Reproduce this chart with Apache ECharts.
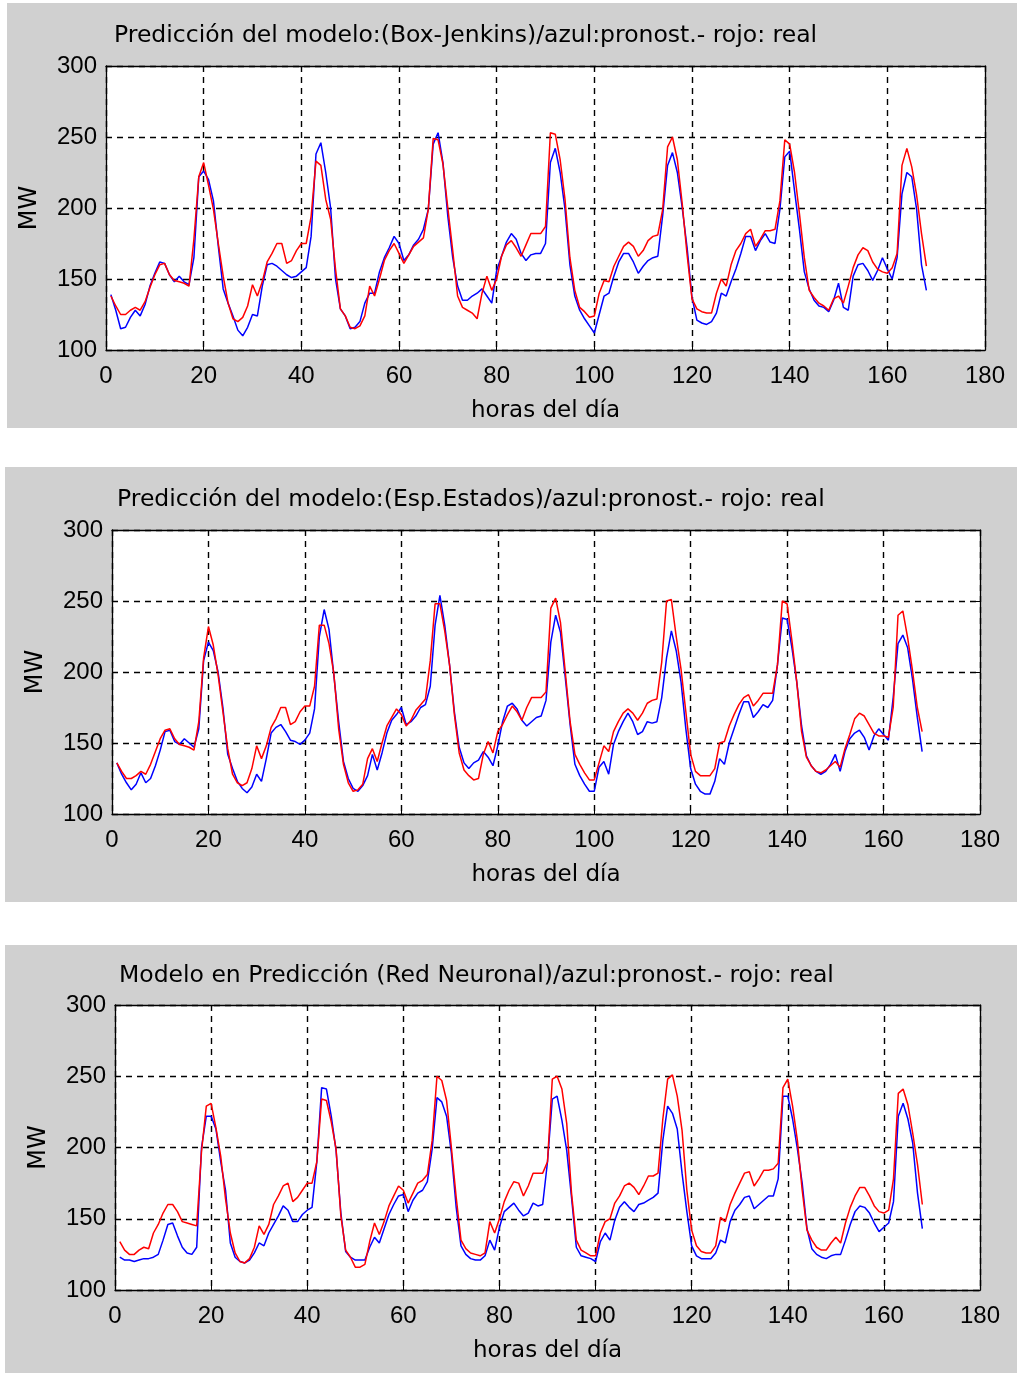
<!DOCTYPE html>
<html>
<head>
<meta charset="utf-8">
<script src="https://cdn.jsdelivr.net/npm/echarts@6/dist/echarts.min.js"></script>
<style>
html,body{margin:0;padding:0;background:#fff;}
#c{width:1017px;height:1373px;}
</style>
</head>
<body>
<div id="c"></div>
<script>
// ---------- DATA ----------
const titles = [
  'Predicción del modelo:(Box-Jenkins)/azul:pronost.- rojo: real',
  'Predicción del modelo:(Esp.Estados)/azul:pronost.- rojo: real',
  'Modelo en Predicción (Red Neuronal)/azul:pronost.- rojo: real'
];
const xName = 'horas del día';
const yName = 'MW';

// hours 1..168 (x positions of the hourly samples)
const hours = [];
for (let h = 1; h <= 168; h++) hours.push(h);

// Panel 1 : Box-Jenkins
const bjReal = [
  138,131,125,125,128,130,128,134,144,153,
  160,161,153,149,148,147,145,178,222,232,
  216,199,175,152,133,122,120,123,131,146,
  138,148,162,168,175,175,161,163,170,175,
  175,194,233,230,206,192,157,129,124,116,
  115,117,124,145,138,150,163,170,175,168,
  161,167,173,176,179,199,249,248,231,200,
  170,138,130,128,126,122,140,152,142,150,
  166,174,177,172,166,174,182,182,182,187,
  253,252,234,206,165,142,130,127,123,124,
  140,149,148,159,166,173,176,173,166,170,
  177,180,181,199,243,250,234,203,167,136,
  129,127,126,126,140,150,145,160,170,175,
  182,185,173,178,184,184,185,205,248,245,
  225,196,165,142,137,133,131,128,136,138,
  133,145,158,167,172,170,162,157,155,154,
  158,168,230,242,229,209,182,159
];
const bjPron = [
  139,128,115,116,123,128,124,132,145,154,
  162,161,153,148,152,148,146,165,222,226,
  220,205,173,143,133,124,114,110,116,125,
  124,145,160,161,159,156,153,151,152,155,
  158,180,238,246,225,200,150,129,124,115,
  116,120,133,140,140,155,165,172,180,175,
  163,167,174,178,185,199,245,253,232,194,
  165,145,135,135,138,140,143,138,133,156,
  166,176,182,178,168,163,167,168,168,175,
  232,242,225,199,160,138,128,122,117,112,
  125,138,140,152,162,168,168,162,154,159,
  163,165,166,195,230,239,225,200,172,137,
  121,119,118,120,126,140,138,148,157,168,
  180,180,170,177,182,176,175,199,236,240,
  212,185,155,143,135,131,130,127,135,147,
  130,128,152,160,161,156,149,156,165,157,
  150,165,210,225,222,199,160,142
];

// Panel 2 : Espacio de Estados
const eeReal = [
  136,130,125,125,127,130,128,135,144,153,
  159,160,153,149,148,147,145,165,210,232,
  219,198,172,146,128,122,120,122,132,148,
  139,148,161,167,175,175,163,165,172,176,
  176,190,233,233,220,199,160,135,122,116,
  117,121,139,146,137,150,162,168,174,170,
  162,166,173,177,181,208,248,248,229,205,
  170,143,131,127,124,125,142,151,143,158,
  163,170,176,172,166,175,182,182,182,186,
  245,252,235,200,165,142,135,129,124,124,
  136,148,144,158,165,171,174,171,166,171,
  178,180,181,207,250,251,225,202,172,142,
  130,127,127,127,132,150,151,162,170,177,
  182,184,176,180,185,185,185,205,250,248,
  222,193,158,140,134,130,129,131,134,137,
  133,146,156,167,171,169,163,157,155,155,
  154,175,240,243,224,201,175,158
];
const eePron = [
  136,128,122,117,121,129,122,125,134,145,
  158,159,151,149,153,150,147,160,208,221,
  215,200,175,142,132,123,118,115,119,128,
  123,139,157,161,163,158,152,151,149,152,
  157,174,225,244,230,198,165,137,125,118,
  116,120,127,142,131,143,157,166,170,175,
  163,165,169,175,177,190,233,254,233,205,
  172,147,136,132,136,138,144,140,134,148,
  165,176,178,174,166,162,165,168,169,180,
  221,240,228,196,163,135,127,121,116,116,
  133,137,128,149,158,165,171,165,156,158,
  165,164,165,182,210,229,215,193,160,132,
  121,116,114,114,123,139,135,150,160,170,
  179,179,168,172,177,175,180,205,238,237,
  217,193,162,141,134,130,128,130,135,142,
  130,144,153,157,159,154,145,155,160,156,
  152,182,220,226,217,195,168,144
];

// Panel 3 : Red Neuronal
const rnReal = [
  134,128,125,125,128,130,129,140,146,154,
  160,160,155,148,147,146,145,197,229,231,
  214,194,164,140,126,120,119,122,130,145,
  139,146,160,166,173,175,162,165,170,175,
  175,190,234,233,218,199,152,128,123,116,
  116,118,134,147,139,148,159,166,173,170,
  161,168,175,177,181,205,250,247,233,200,
  165,135,129,126,125,124,126,148,140,150,
  162,170,176,175,166,173,182,182,182,190,
  248,250,241,217,168,135,128,126,124,124,
  140,148,150,161,166,173,175,172,167,173,
  180,180,182,220,248,251,236,212,170,142,
  131,127,126,126,131,151,148,160,168,175,
  182,183,173,178,184,184,185,189,242,248,
  229,205,170,142,135,130,128,128,133,137,
  133,147,158,166,172,172,166,159,155,154,
  156,178,238,241,230,210,188,160
];
const rnPron = [
  123,121,121,120,121,122,122,123,125,135,
  146,147,138,130,126,125,130,200,222,222,
  213,190,170,133,123,120,119,121,126,133,
  131,140,146,152,159,156,148,148,153,156,
  158,190,242,241,222,198,154,127,123,121,
  121,121,130,137,133,143,153,160,166,167,
  155,163,168,170,176,199,235,232,222,196,
  158,131,125,122,121,121,124,135,128,144,
  155,158,161,156,152,154,161,159,160,190,
  234,236,219,198,165,130,124,123,122,120,
  134,140,135,149,158,162,158,155,160,161,
  163,165,168,205,229,224,213,182,155,131,
  124,122,122,122,126,135,133,148,156,160,
  165,166,157,160,163,166,166,178,236,236,
  220,199,175,143,129,125,123,122,124,125,
  125,135,146,155,159,158,154,147,141,144,
  147,162,222,231,220,203,168,143
];

// ---------- LAYOUT ----------
const panels = [
  { title: titles[0], real: bjReal, pron: bjPron },
  { title: titles[1], real: eeReal, pron: eePron },
  { title: titles[2], real: rnReal, pron: rnPron }
];
const layout = [
  { bg: [7, 3, 1010, 425],  grid: { left: 106, top: 66,   width: 879, height: 284 }, tl: 114, tt: 24 },
  { bg: [5, 467, 1012, 435], grid: { left: 112, top: 530,  width: 868, height: 284 }, tl: 117, tt: 488 },
  { bg: [5, 945, 1012, 428], grid: { left: 115, top: 1005, width: 865, height: 285 }, tl: 119, tt: 964 }
];

const BG = '#d0d0d0';
const tickFont = 'Liberation Sans, Arial, sans-serif';
const textFont = 'DejaVu Sans, sans-serif';

const pairs = (arr) => arr.map((v, i) => [hours[i], v]);

const option = {
  animation: false,
  backgroundColor: '#ffffff',
  title: [],
  grid: [],
  xAxis: [],
  yAxis: [],
  series: [],
  graphic: { elements: [] }
};

panels.forEach((p, i) => {
  const L = layout[i];
  option.graphic.elements.push({
    type: 'rect', z: -10, silent: true,
    shape: { x: L.bg[0], y: L.bg[1], width: L.bg[2], height: L.bg[3] },
    style: { fill: BG }
  });
  option.title.push({
    text: p.title, left: L.tl, top: L.tt, padding: 0,
    textStyle: { fontFamily: textFont, fontSize: 23.5, fontWeight: 'normal', color: '#000' }
  });
  option.grid.push(Object.assign({ show: true, backgroundColor: '#ffffff', borderWidth: 0 }, L.grid));

  const axisLine = { show: true, onZero: false, lineStyle: { color: '#000', width: 1.3 } };
  const tick = { show: true, inside: true, length: 6, lineStyle: { color: '#000', width: 1 } };
  const dash = { show: true, lineStyle: { color: '#000', type: [6, 5], width: 1.4 } };

  option.xAxis.push({
    gridIndex: i, type: 'value', min: 0, max: 180, interval: 20, position: 'bottom',
    axisLine, axisTick: tick, splitLine: dash,
    axisLabel: { fontFamily: tickFont, fontSize: 24, color: '#000', margin: 14 },
    name: xName, nameLocation: 'middle', nameGap: 50,
    nameTextStyle: { fontFamily: textFont, fontSize: 23, color: '#000' }
  });
  option.xAxis.push({
    gridIndex: i, type: 'value', min: 0, max: 180, interval: 20, position: 'top',
    axisLine, axisTick: tick, splitLine: { show: false }, axisLabel: { show: false }
  });
  option.yAxis.push({
    gridIndex: i, type: 'value', min: 100, max: 300, interval: 50, position: 'left',
    axisLine, axisTick: tick, splitLine: dash,
    axisLabel: { fontFamily: tickFont, fontSize: 24, color: '#000', margin: 9 },
    name: yName, nameLocation: 'middle', nameGap: 64, nameRotate: 90,
    nameTextStyle: { fontFamily: textFont, fontSize: 24, color: '#000' }
  });
  option.yAxis.push({
    gridIndex: i, type: 'value', min: 100, max: 300, interval: 50, position: 'right',
    axisLine, axisTick: tick, splitLine: { show: false }, axisLabel: { show: false }
  });

  option.series.push({
    type: 'line', name: 'pronóstico', xAxisIndex: 2 * i, yAxisIndex: 2 * i,
    data: pairs(p.pron), showSymbol: false, symbol: 'none',
    lineStyle: { color: '#0000ff', width: 1.5 }, z: 3
  });
  option.series.push({
    type: 'line', name: 'real', xAxisIndex: 2 * i, yAxisIndex: 2 * i,
    data: pairs(p.real), showSymbol: false, symbol: 'none',
    lineStyle: { color: '#ff0000', width: 1.5 }, z: 4
  });
});

const chart = echarts.init(document.getElementById('c'), null, { renderer: 'canvas' });
chart.setOption(option);
</script>
</body>
</html>
